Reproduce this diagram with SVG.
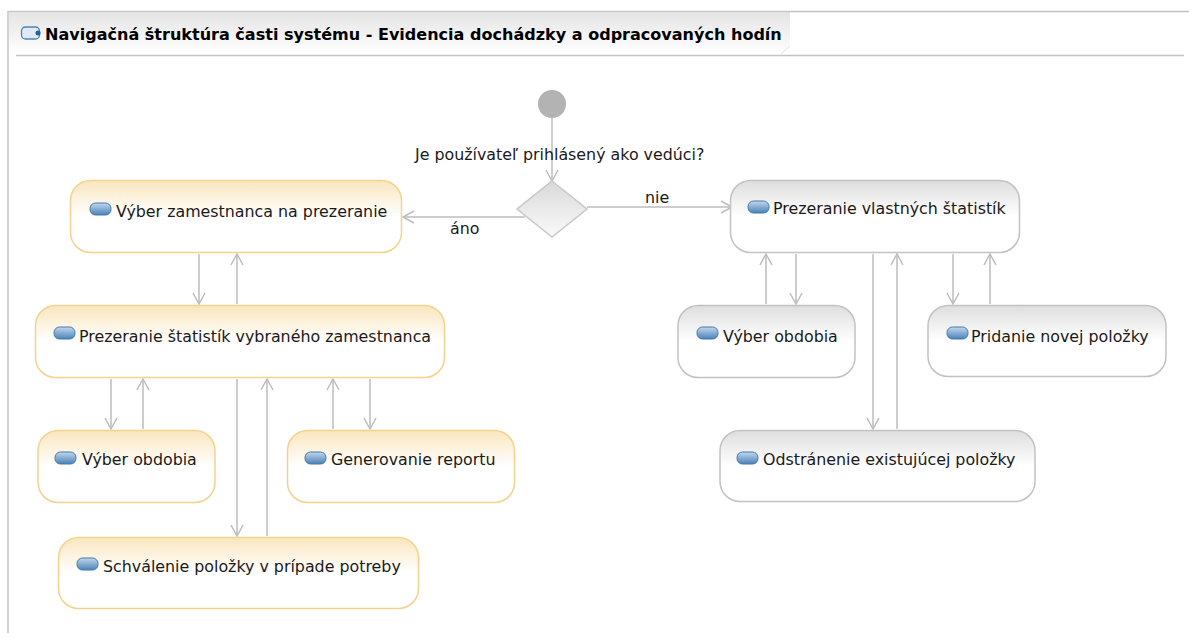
<svg xmlns="http://www.w3.org/2000/svg" width="1189" height="639" viewBox="0 0 1189 639">
<style>
text{font-family:"DejaVu Sans",Verdana,sans-serif;font-size:15.85px;fill:#1a1a1a}
.t{font-weight:bold;font-size:16.05px;fill:#000}
.y{fill:url(#gy);stroke:#f3d28e;stroke-width:1.5}
.g{fill:url(#gg);stroke:#c2c2c2;stroke-width:1.5}
.c{fill:none;stroke:#bdbdbd;stroke-width:1.5;marker-end:url(#a)}
</style>
<defs>
<linearGradient id="gy" x1="0" y1="0" x2="0" y2="1"><stop offset="0" stop-color="#fae6bf"/><stop offset=".5" stop-color="#fff"/></linearGradient>
<linearGradient id="gg" x1="0" y1="0" x2="0" y2="1"><stop offset="0" stop-color="#dedede"/><stop offset=".5" stop-color="#fff"/></linearGradient>
<linearGradient id="gd" x1="0" y1="0" x2="0" y2="1"><stop offset="0" stop-color="#d9d9d9"/><stop offset="1" stop-color="#fafafa"/></linearGradient>
<linearGradient id="gt" x1="0" y1="0" x2="0" y2="1"><stop offset="0" stop-color="#e4e4e4"/><stop offset="1" stop-color="#fff"/></linearGradient>
<linearGradient id="gi" x1="0" y1="0" x2="0" y2="1"><stop offset="0" stop-color="#c3d8ec"/><stop offset="1" stop-color="#4a82b8"/></linearGradient>
<marker id="a" markerUnits="userSpaceOnUse" markerWidth="16" markerHeight="16" refX="12" refY="7" orient="auto"><path d="M1 1L12 7L1 13" fill="none" stroke="#bdbdbd" stroke-width="1.5"/></marker>
<g id="ic"><rect x="0" y="0" width="21" height="12" rx="5.5" fill="url(#gi)" stroke="#3f78ae" stroke-width="1"/></g>
</defs>
<g id="frame">
<path d="M8 633V11.500H1189" fill="none" stroke="#c4c4c4" stroke-width="1.500"/>
<path d="M9 12H790V46L781 54H9Z" fill="url(#gt)"/>
<path d="M16 55.500H1184" stroke="#c4c4c4" stroke-width="1.500"/>
<path d="M790 46L781 54" stroke="#e4e4e4"/>
<rect x="21.500" y="27" width="18" height="12" rx="4" fill="#dfeaf6" stroke="#4d82b8" stroke-width="1.300"/>
<circle cx="38" cy="33" r="2.500" fill="#2d5f96"/>
<text class="t" x="45" y="40">Navigačná štruktúra časti systému - Evidencia dochádzky a odpracovaných hodín</text>
</g>
<g id="connectors">
<path class="c" d="M552 118V181"/>
<path class="c" d="M525 217H403"/>
<path class="c" d="M587 207H732"/>
<path class="c" d="M199 254V304"/>
<path class="c" d="M237 304V254"/>
<path class="c" d="M111 379V429"/>
<path class="c" d="M143 429V379"/>
<path class="c" d="M237 379V536"/>
<path class="c" d="M267 536V379"/>
<path class="c" d="M333 429V379"/>
<path class="c" d="M370 379V429"/>
<path class="c" d="M766 304V254"/>
<path class="c" d="M796 254V304"/>
<path class="c" d="M873 254V429"/>
<path class="c" d="M897 429V254"/>
<path class="c" d="M953 254V304"/>
<path class="c" d="M990 304V254"/>
</g>
<g id="start"><circle cx="552" cy="104" r="14" fill="#b3b3b3"/></g>
<g id="decision"><path d="M552 181L587 209L552 237L517 209Z" fill="url(#gd)" stroke="#c8c8c8" stroke-width="1.500"/>
<text x="415" y="160">Je používateľ prihlásený ako vedúci?</text></g>
<g id="lbl"><text x="645" y="203">nie</text><text x="450" y="234">áno</text></g>
<g id="n1"><rect class="y" x="70.500" y="180.500" width="331" height="72" rx="20"/><use href="#ic" x="90" y="203"/><text x="116" y="217">Výber zamestnanca na prezeranie</text></g>
<g id="n2"><rect class="y" x="35.500" y="305.500" width="409" height="72" rx="20"/><use href="#ic" x="54" y="327"/><text x="79" y="342">Prezeranie štatistík vybraného zamestnanca</text></g>
<g id="n3"><rect class="y" x="38" y="430.500" width="177" height="72" rx="20"/><use href="#ic" x="55" y="452"/><text x="82" y="465">Výber obdobia</text></g>
<g id="n4"><rect class="y" x="287.500" y="430.500" width="227" height="72" rx="20"/><use href="#ic" x="305" y="452"/><text x="331" y="465">Generovanie reportu</text></g>
<g id="n5"><rect class="y" x="58.500" y="537.500" width="360" height="71" rx="20"/><use href="#ic" x="77" y="558"/><text x="103" y="572">Schválenie položky v prípade potreby</text></g>
<g id="n6"><rect class="g" x="730.500" y="180.500" width="289" height="72" rx="20"/><use href="#ic" x="748" y="201"/><text x="773" y="214">Prezeranie vlastných štatistík</text></g>
<g id="n7"><rect class="g" x="678" y="305.500" width="177" height="72" rx="20"/><use href="#ic" x="697" y="327"/><text x="723" y="342">Výber obdobia</text></g>
<g id="n8"><rect class="g" x="928" y="305.500" width="238" height="71" rx="20"/><use href="#ic" x="947" y="327"/><text x="971" y="342">Pridanie novej položky</text></g>
<g id="n9"><rect class="g" x="720" y="430.500" width="315" height="71" rx="20"/><use href="#ic" x="737" y="452"/><text x="763" y="465">Odstránenie existujúcej položky</text></g>
</svg>
